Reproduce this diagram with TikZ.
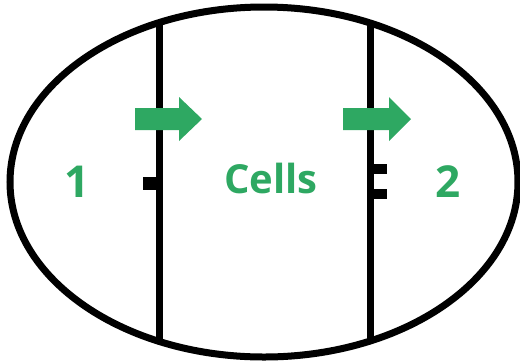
\documentclass[tikz,border=0pt]{standalone}
\usepackage{fontspec}
\setsansfont{Open Sans}
\usetikzlibrary{positioning}
\definecolor{cellgreen}{RGB}{46,168,98}
\tikzset{
  wall/.style={line width=7pt},
  flow/.style={fill=cellgreen},
  tick/.style={fill=black},
  celltext/.style={text=cellgreen, font=\sffamily\bfseries\fontsize{40}{44}\selectfont, inner sep=0pt, anchor=base},
  roomtext/.style={celltext, font=\sffamily\bfseries\fontsize{44}{48}\selectfont},
}

\begin{document}
\begin{tikzpicture}[x=1pt,y=-1pt]
    \useasboundingbox (0,0) rectangle (520,360);

    % the two walls, cut off by the outline
    \begin{scope}
      \clip (264,182) ellipse [x radius=254pt, y radius=175pt];
      \draw[wall] (159,0) -- (159,360);
      \draw[wall] (370,0) -- (370,360);
    \end{scope}
    \draw[wall] (264,182) ellipse [x radius=254pt, y radius=175pt];

    % small stubs on the walls
    \fill[tick] (143,177) rectangle (159,190);
    \fill[tick] (370,164) rectangle (387,174);
    \fill[tick] (370,189) rectangle (387,199);

    % arrows
    \fill[flow] (135,108) -- (179,108) -- (179,97) -- (202,119)
      -- (179,141) -- (179,130) -- (135,130) -- cycle;
    \fill[flow] (343,108) -- (389,108) -- (389,97) -- (411,119)
      -- (389,141) -- (389,130) -- (343,130) -- cycle;

    % labels
    \node[roomtext] (one) at (77,197) {1};
    \node[celltext] (cells) at (271,193) {Cells};
    \node[roomtext] (two) at (448,197) {2};
\end{tikzpicture}
\end{document}
